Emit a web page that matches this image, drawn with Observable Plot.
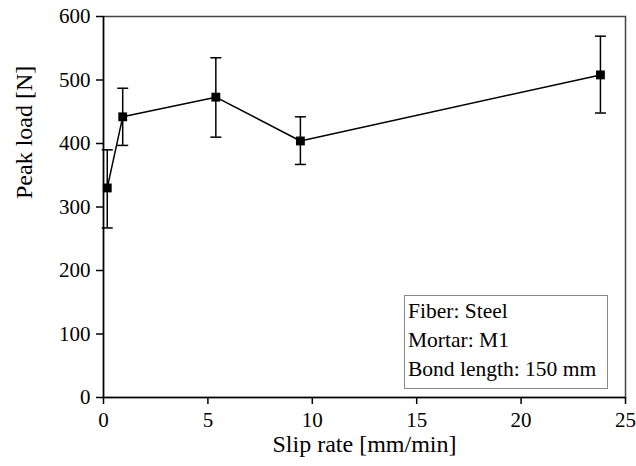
<!DOCTYPE html>
<html>
<head>
<meta charset="utf-8">
<script src="https://cdn.jsdelivr.net/npm/d3@7"></script>
<script src="https://cdn.jsdelivr.net/npm/@observablehq/plot@0.6"></script>
<style>
  html, body { margin: 0; padding: 0; background: #fff; }
  #wrap { position: relative; width: 636px; height: 466px; }
  #legend { position: absolute; left: 404px; top: 295px; width: 204px; height: 94px; border: 1px solid #888; background: #fff; box-sizing: border-box; font-size: 21.5px; line-height: 29.3px; padding: 0.5px 0 0 3px; color: #000; white-space: nowrap; }
</style>
</head>
<body>
<div id="wrap"></div>
<script>
// Data
const slipRate = [0.18, 0.92, 5.38, 9.43, 23.8];
const peakLoad = [330, 442, 473, 404, 508];
const errLow  = [267, 397, 410, 367, 448];
const errHigh = [390, 487, 535, 442, 569];
const xTicks = [0, 5, 10, 15, 20, 25];
const yTicks = [0, 100, 200, 300, 400, 500, 600];
const legendLines = ["Fiber: Steel", "Mortar: M1", "Bond length: 150 mm"];

const FONT = "Liberation Serif";
const data = slipRate.map((x, i) => ({x, y: peakLoad[i], lo: errLow[i], hi: errHigh[i]}));

const capSymbol = {
  draw(ctx, size) {
    const w = 5.5;
    ctx.moveTo(-w, 0);
    ctx.lineTo(w, 0);
  }
};

const chart = Plot.plot({
  width: 636,
  height: 466,
  marginLeft: 103,
  marginRight: 11,
  marginTop: 16,
  marginBottom: 69,
  style: {fontFamily: FONT, fontSize: "21px", color: "#000", background: "#fff", overflow: "visible"},
  x: {domain: [0, 25]},
  y: {domain: [0, 600]},
  marks: [
    Plot.frame({stroke: "#444", strokeWidth: 1.5}),
    Plot.axisX({ticks: xTicks, tickSize: 7, tickPadding: 8, fontSize: 21, fontFamily: FONT, label: null, strokeWidth: 1.5}),
    Plot.axisY({ticks: yTicks, tickSize: 7, tickPadding: 6, fontSize: 21, fontFamily: FONT, label: null, strokeWidth: 1.5}),
    Plot.ruleY([0], {stroke: "#000", strokeWidth: 1.5}),
    Plot.ruleX([0], {stroke: "#000", strokeWidth: 1.5}),
    Plot.text(["Slip rate [mm/min]"], {frameAnchor: "bottom", dy: 54, fontSize: 24, fontFamily: FONT, fill: "#000"}),
    Plot.text(["Peak load [N]"], {frameAnchor: "left", dx: -79, dy: -8, rotate: -90, fontSize: 24, fontFamily: FONT, fill: "#000"}),
    Plot.ruleX(data, {x: "x", y1: "lo", y2: "hi", stroke: "#000", strokeWidth: 1.5}),
    Plot.dot(data, {x: "x", y: "lo", symbol: capSymbol, stroke: "#000", strokeWidth: 1.5, r: 3}),
    Plot.dot(data, {x: "x", y: "hi", symbol: capSymbol, stroke: "#000", strokeWidth: 1.5, r: 3}),
    Plot.line(data, {x: "x", y: "y", stroke: "#000", strokeWidth: 1.5}),
    Plot.dot(data, {x: "x", y: "y", symbol: "square", fill: "#000", r: 5})
  ]
});

const wrap = document.getElementById("wrap");
wrap.appendChild(chart);
const legend = document.createElement("div");
legend.id = "legend";
legend.style.fontFamily = FONT;
legendLines.forEach(t => { const d = document.createElement("div"); d.textContent = t; legend.appendChild(d); });
wrap.appendChild(legend);
</script>
</body>
</html>
